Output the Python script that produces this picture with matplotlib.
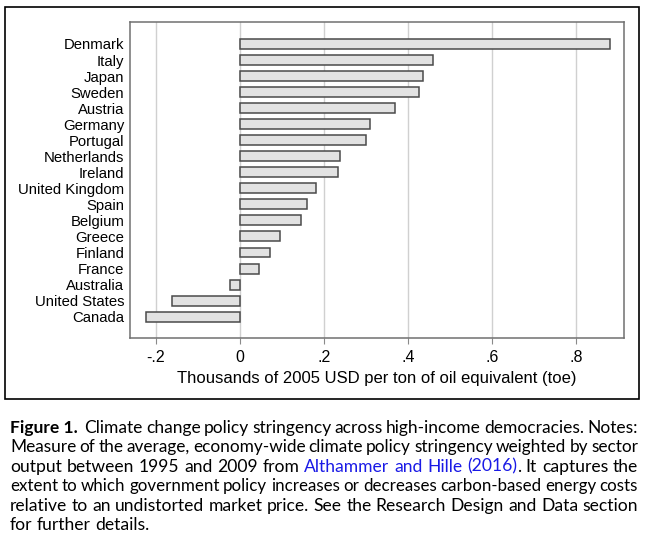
import matplotlib.pyplot as plt
from matplotlib.patches import Rectangle

countries = ['Denmark', 'Italy', 'Japan', 'Sweden', 'Austria', 'Germany',
             'Portugal', 'Netherlands', 'Ireland', 'United Kingdom', 'Spain',
             'Belgium', 'Greece', 'Finland', 'France', 'Australia',
             'United States', 'Canada']
stringency = [0.880, 0.460, 0.435, 0.425, 0.368, 0.310, 0.299, 0.239, 0.233,
              0.180, 0.160, 0.145, 0.095, 0.071, 0.044, -0.024, -0.163, -0.224]
x_ticks = [-0.2, 0, 0.2, 0.4, 0.6, 0.8]
x_tick_labels = ['-.2', '0', '.2', '.4', '.6', '.8']

plt.rcParams['font.family'] = ['Liberation Sans', 'DejaVu Sans']

W, H = 647, 550
fig = plt.figure(figsize=(W / 100, H / 100), dpi=100)

# outer frame around the graph
fig.patches.append(Rectangle((5 / W, 1 - 399 / H), 634 / W, 392 / H,
                             transform=fig.transFigure, fill=False,
                             edgecolor='black', linewidth=1.2))

ax = fig.add_axes([130 / W, 1 - 338 / H, 494 / W, 316 / H])
pos = list(range(len(countries)))
ax.barh(pos, stringency, height=0.62, color='#e2e2e2', edgecolor='#4a4a4a',
        linewidth=1.1, zorder=3)
ax.set_xlim(-0.262, 0.914)
ax.set_ylim(18.33, -1.37)
ax.set_xticks(x_ticks)
ax.set_xticklabels(x_tick_labels, fontsize=11.5)
ax.set_yticks(pos)
ax.set_yticklabels(countries, fontsize=10.7)
ax.tick_params(axis='y', length=0, pad=4)
ax.tick_params(axis='x', length=4, color='#8a8a8a', pad=5)
ax.grid(axis='x', color='#d0d0d0', linewidth=1, zorder=0)
for s in ax.spines.values():
    s.set_color('#707070')
    s.set_linewidth(1.1)
ax.set_xlabel('Thousands of 2005 USD per ton of oil equivalent (toe)',
              fontsize=12, labelpad=4)

# caption, justified like in the journal layout
cap_font = ['Lato', 'DejaVu Sans']
cap_size = 12.6
blue = '#1a1ae6'
lines = [
    [[('Figure 1.', 'bold', 'black')], [('', 'normal', 'black')],
     'Climate change policy stringency across high-income democracies. Notes:'],
    'Measure of the average, economy-wide climate policy stringency weighted by sector',
    ['output between 1995 and 2009 from',
     [('Althammer', 'normal', blue)], [('and', 'normal', blue)],
     [('Hille', 'normal', blue)], [('(2016)', 'normal', blue), ('.', 'normal', 'black')],
     'It captures the'],
    'extent to which government policy increases or decreases carbon-based energy costs',
    'relative to an undistorted market price. See the Research Design and Data section',
    'for further details.',
]


def to_words(line):
    if isinstance(line, str):
        line = [line]
    words = []
    for item in line:
        if isinstance(item, str):
            words += [[(w, 'normal', 'black')] for w in item.split()]
        else:
            words.append(item)
    return words


fig.canvas.draw()
renderer = fig.canvas.get_renderer()


def width_px(s, weight, size):
    if not s:
        return 0
    t = fig.text(0, 0, s, fontsize=size, family=cap_font, fontweight=weight)
    w = t.get_window_extent(renderer).width
    t.remove()
    return w


x0, x1 = 10, 638
y = 433
for li, line in enumerate(lines):
    words = to_words(line)
    size = cap_size
    # shrink a line a bit if it would not fit
    while True:
        widths = [sum(width_px(s, wt, size) for s, wt, c in w) for w in words]
        space = width_px('a b', 'normal', size) - width_px('ab', 'normal', size)
        if sum(widths) + space * 0.7 * (len(words) - 1) <= x1 - x0:
            break
        size -= 0.1
    last = li == len(lines) - 1
    gap = space if last else (x1 - x0 - sum(widths)) / (len(words) - 1)
    x = x0
    for w, ww in zip(words, widths):
        xx = x
        for s, wt, c in w:
            if s:
                fig.text(xx / W, 1 - y / H, s, fontsize=size, family=cap_font,
                         fontweight=wt, color=c, va='baseline')
            xx += width_px(s, wt, size)
        x += ww + gap
    y += 19.4

fig.savefig('out.png', dpi=100)
